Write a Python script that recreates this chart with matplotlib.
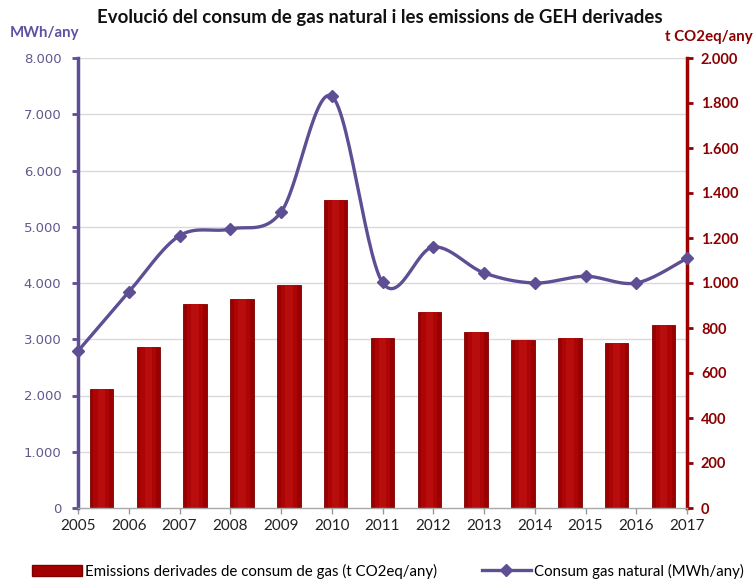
import numpy as np
import matplotlib
matplotlib.use("Agg")
import matplotlib.pyplot as plt
from matplotlib.patches import Patch
from matplotlib.lines import Line2D
from matplotlib.ticker import FuncFormatter

# data
years = [2005, 2006, 2007, 2008, 2009, 2010, 2011, 2012, 2013, 2014, 2015, 2016, 2017]
consum_mwh = [2790, 3840, 4840, 4960, 5260, 7320, 4010, 4640, 4180, 4000, 4120, 4000, 4440]
emissions_t = [530, 716, 907, 929, 991, 1370, 756, 871, 782, 747, 756, 733, 813]

title = "Evolució del consum de gas natural i les emissions de GEH derivades"
label_bar = "Emissions derivades de consum de gas (t CO2eq/any)"
label_line = "Consum gas natural (MWh/any)"

PURPLE = "#5E4E94"
PURPLE_TXT = "#5F5A8E"
RED = "#A50000"
DARKRED = "#8B0000"
FONT = "Lato"


def thousands(v, _pos=None):
    return f"{v:,.0f}".replace(",", ".")


def excel_smooth(x, y, n=30):
    """Bezier smoothing similar to Excel's 'smoothed line'."""
    x = np.asarray(x, float)
    y = np.asarray(y, float)
    px = np.concatenate([[x[0]], x, [x[-1]]])
    py = np.concatenate([[y[0]], y, [y[-1]]])
    t = np.linspace(0, 1, n)[:, None]
    out = []
    for i in range(1, len(px) - 2):
        p0 = np.array([px[i], py[i]])
        p3 = np.array([px[i + 1], py[i + 1]])
        c1 = p0 + (np.array([px[i + 1], py[i + 1]]) - np.array([px[i - 1], py[i - 1]])) / 6
        c2 = p3 - (np.array([px[i + 2], py[i + 2]]) - np.array([px[i], py[i]])) / 6
        seg = ((1 - t) ** 3) * p0 + 3 * ((1 - t) ** 2) * t * c1 + 3 * (1 - t) * t ** 2 * c2 + t ** 3 * p3
        out.append(seg if i == 1 else seg[1:])
    pts = np.vstack(out)
    return pts[:, 0], pts[:, 1]


fig = plt.figure(figsize=(7.55, 5.82), dpi=100)
rect = [78 / 755, 1 - 508 / 582, (687 - 78) / 755, (508 - 58) / 582]

# bars: own category axis, values on the right
axb = fig.add_axes(rect)
idx = np.arange(len(years))
axb.set_xlim(-0.5, len(years) - 0.5)
axb.set_ylim(0, 2000)
for g in np.arange(250, 2001, 250):
    axb.axhline(g, color="#DADADA", lw=1, zorder=0)
axb.bar(idx, emissions_t, width=0.5, color="#9A0000", edgecolor="#7A0000", lw=0.6, zorder=2)
axb.bar(idx, emissions_t, width=0.34, color="#AD0505", lw=0, zorder=3)
axb.bar(idx, emissions_t, width=0.16, color="#B80D0D", lw=0, zorder=3)
axb.yaxis.tick_right()
axb.set_yticks(np.arange(0, 2001, 200))
axb.yaxis.set_major_formatter(FuncFormatter(thousands))
axb.tick_params(axis="y", colors=DARKRED, direction="out", length=4, width=2, pad=6)
for lab in axb.get_yticklabels():
    lab.set_fontfamily(FONT)
    lab.set_fontweight("bold")
    lab.set_fontsize(10.5)
    lab.set_color(DARKRED)
axb.set_xticks([])
for s in ["left", "top", "bottom"]:
    axb.spines[s].set_visible(False)
axb.spines["right"].set_color("#A00000")
axb.spines["right"].set_linewidth(2.5)

# line: left axis, points on the year ticks
ax = fig.add_axes(rect)
ax.patch.set_alpha(0)
xs = np.arange(len(years))
ax.set_xlim(0, len(years) - 1)
ax.set_ylim(0, 8000)
sx, sy = excel_smooth(xs, consum_mwh)
ax.plot(sx, sy, color=PURPLE, lw=2.4, solid_capstyle="round", zorder=4, clip_on=False)
ax.plot(xs, consum_mwh, ls="none", marker="D", ms=6.5, color=PURPLE, zorder=5, clip_on=False)
ax.set_yticks(np.arange(0, 8001, 1000))
ax.yaxis.set_major_formatter(FuncFormatter(thousands))
ax.tick_params(axis="y", colors=PURPLE, direction="out", length=4, width=2, pad=8,
               labelsize=9.5, labelcolor=PURPLE_TXT)
ax.set_xticks(xs)
ax.set_xticklabels([str(y) for y in years], fontfamily=FONT, fontsize=11, color="#222222")
ax.tick_params(axis="x", colors="#9A9A9A", direction="out", length=4, width=1, pad=4,
               labelcolor="#222222")
for s in ["right", "top"]:
    ax.spines[s].set_visible(False)
ax.spines["left"].set_color(PURPLE)
ax.spines["left"].set_linewidth(2.5)
ax.spines["bottom"].set_color("#A8A8A8")
ax.spines["bottom"].set_linewidth(1)

fig.text(380 / 755, 1 - 17 / 582, title, ha="center", va="center",
         fontfamily=FONT, fontweight="bold", fontsize=13.4, color="#111111")
fig.text(10 / 755, 1 - 33 / 582, "MWh/any", ha="left", va="center",
         fontfamily=FONT, fontweight="bold", fontsize=10.8, color="#5B52A0")
fig.text(753 / 755, 1 - 37 / 582, "t CO2eq/any", ha="right", va="center",
         fontfamily=FONT, fontweight="bold", fontsize=10.8, color=DARKRED)

handles = [
    Patch(facecolor=RED, edgecolor="#7A0000", label=label_bar),
    Line2D([0], [0], color=PURPLE, lw=2.4, marker="D", ms=6, label=label_line),
]
fig.legend(handles=handles, loc="center", bbox_to_anchor=(388 / 755, 1 - 571 / 582), ncol=2,
           frameon=False, prop={"family": FONT, "size": 10.8}, handlelength=3.3,
           handletextpad=0.2, columnspacing=3.0, borderaxespad=0)

fig.savefig("out.png", dpi=100)
